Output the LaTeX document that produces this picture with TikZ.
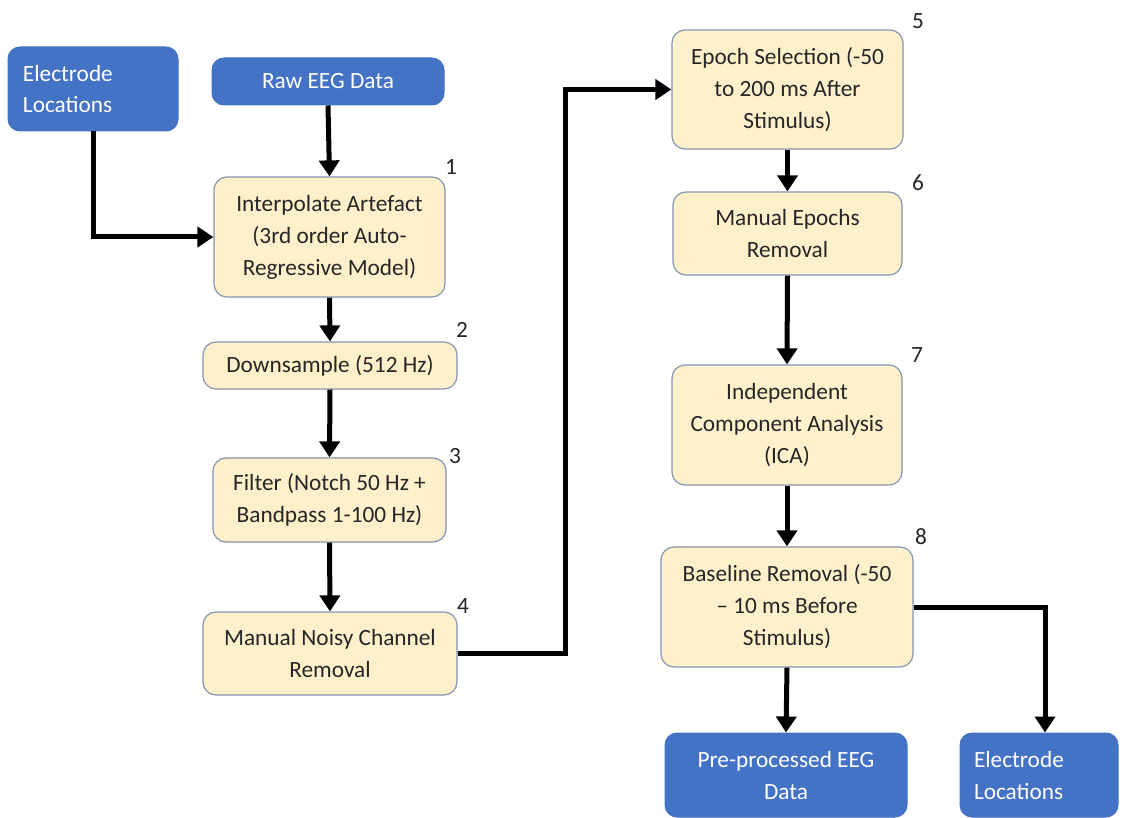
\documentclass[tikz,border=0pt]{standalone}
\usepackage{fontspec}
\setmainfont{Carlito}
\usetikzlibrary{arrows.meta}
\definecolor{eegblue}{HTML}{4472C4}
\definecolor{stepfill}{HTML}{FFF0CC}
\definecolor{stepline}{HTML}{8496B0}
\begin{document}
\begin{tikzpicture}[x=1pt,y=-1pt,
  every node/.style={font=\fontsize{23.3}{32}\selectfont},
  procbox/.style={draw=stepline,line width=1.2pt,fill=stepfill,rounded corners=13pt,align=center,inner sep=2pt,text=black!85},
  iobox/.style={draw=eegblue,line width=1pt,fill=eegblue,rounded corners=12pt,text=white,inner sep=2pt},
  iolbox/.style={iobox,align=left,text width=140pt,inner xsep=15pt,inner ysep=2pt},
  numlbl/.style={text=black!85,inner sep=0pt},
  arr/.style={line width=5pt,-{Triangle[width=20pt,length=16pt]}}
]
\useasboundingbox (0,0) rectangle (1122,818);
\fill[white] (0,0) rectangle (1122,818);

% input / output boxes
\node[iolbox,minimum height=84pt] (elecA) at (93,89) {Electrode\\Locations};
\node[iobox,minimum width=232pt,minimum height=47pt,align=center] (raw) at (328,81.5) {Raw EEG Data};
\node[iobox,minimum width=242pt,minimum height=84pt,align=center] (pre) at (786,775) {Pre-processed EEG\\Data};
\node[iolbox,text width=130pt,inner xsep=14pt,minimum height=84pt] (elecB) at (1039,775) {Electrode\\Locations};

% processing steps
\node[procbox,minimum width=231pt,minimum height=120pt] (s1) at (329.5,237) {Interpolate Artefact\\(3rd order Auto-\\Regressive Model)};
\node[procbox,minimum width=254pt,minimum height=47pt] (s2) at (330,365.5) {Downsample (512 Hz)};
\node[procbox,minimum width=233pt,minimum height=84pt] (s3) at (329.5,500) {Filter (Notch 50 Hz +\\Bandpass 1-100 Hz)};
\node[procbox,minimum width=254pt,minimum height=83pt] (s4) at (330,653.5) {Manual Noisy Channel\\Removal};
\node[procbox,minimum width=231pt,minimum height=119pt] (s5) at (787.5,89.5) {Epoch Selection (-50\\to 200 ms After\\Stimulus)};
\node[procbox,minimum width=229pt,minimum height=83pt] (s6) at (787.5,233.5) {Manual Epochs\\Removal};
\node[procbox,minimum width=230pt,minimum height=120pt] (s7) at (787,425) {Independent\\Component Analysis\\(ICA)};
\node[procbox,minimum width=252pt,minimum height=120pt] (s8) at (787,607) {Baseline Removal (-50\\– 10 ms Before\\Stimulus)};

% step numbers
\node[numlbl] (n1) at (451,167) {1};
\node[numlbl] (n2) at (462,330) {2};
\node[numlbl] (n3) at (455,456) {3};
\node[numlbl] (n4) at (463,606) {4};
\node[numlbl] (n5) at (918,21) {5};
\node[numlbl] (n6) at (918,183) {6};
\node[numlbl] (n7) at (917,355) {7};
\node[numlbl] (n8) at (921,537) {8};

% connectors
\coordinate (bendA) at (565,0);
\coordinate (bendB) at (1045,0);
\draw[arr] (raw.south) -- (s1.north);
\draw[arr] (elecA.south) |- (s1.west);
\draw[arr] (s1.south) -- (s2.north);
\draw[arr] (s2.south) -- (s3.north);
\draw[arr] (s3.south) -- (s4.north);
\draw[arr] (s4.east) -- (s4.east -| bendA) |- (s5.west);
\draw[arr] (s5.south) -- (s6.north);
\draw[arr] (s6.south) -- (s7.north);
\draw[arr] (s7.south) -- (s8.north);
\draw[arr] (s8.south) -- (pre.north);
\draw[arr] (s8.east) -- (s8.east -| bendB) -- (bendB |- elecB.north);
\end{tikzpicture}
\end{document}
